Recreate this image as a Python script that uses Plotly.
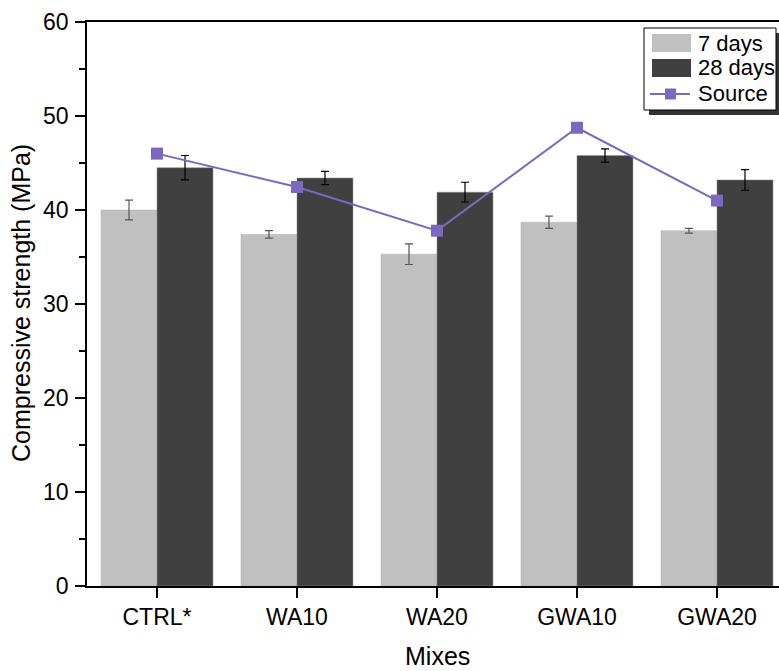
import plotly.graph_objects as go

mixes = ["CTRL*", "WA10", "WA20", "GWA10", "GWA20"]
days7 = [40.0, 37.4, 35.3, 38.7, 37.8]
days7_err = [1.05, 0.4, 1.1, 0.65, 0.25]
days28 = [44.5, 43.4, 41.9, 45.8, 43.2]
days28_err = [1.3, 0.7, 1.05, 0.7, 1.1]
source = [46.0, 42.45, 37.8, 48.75, 41.0]

FONT = "Liberation Sans, Arial, sans-serif"
PURPLE = "#7b68bf"

fig = go.Figure()
fig.add_trace(go.Bar(
    x=mixes, y=days7, name="7 days",
    marker=dict(color="#c0c0c0", line=dict(color="#b0b0b0", width=0.5)),
    error_y=dict(type="data", array=days7_err, color="#555555", thickness=1.2, width=4),
    showlegend=False,
))
fig.add_trace(go.Bar(
    x=mixes, y=days28, name="28 days",
    marker=dict(color="#404040", line=dict(color="#909090", width=0.5)),
    error_y=dict(type="data", array=days28_err, color="#000000", thickness=1.2, width=4),
    showlegend=False,
))
fig.add_trace(go.Scatter(
    x=mixes, y=source, name="Source", mode="lines+markers",
    line=dict(color=PURPLE, width=2),
    marker=dict(symbol="square", size=12, color=PURPLE),
    showlegend=False,
))

# page pixel -> paper coordinates (plot area spans x 87..779, y 22..586)
L, T = 87, 22
W, H = 692, 564
def px(x):
    return (x - L) / W
def py(y):
    return 1 - (y - T) / H

shapes = [
    dict(type="rect", xref="paper", yref="paper", x0=px(649), x1=px(779), y0=py(115), y1=py(33),
         fillcolor="#333333", line=dict(width=0), layer="above"),
    dict(type="rect", xref="paper", yref="paper", x0=px(644), x1=px(776), y0=py(110), y1=py(28),
         fillcolor="white", line=dict(color="black", width=1), layer="above"),
    dict(type="rect", xref="paper", yref="paper", x0=px(652), x1=px(691), y0=py(52), y1=py(34),
         fillcolor="#c0c0c0", line=dict(width=0), layer="above"),
    dict(type="rect", xref="paper", yref="paper", x0=px(652), x1=px(691), y0=py(77), y1=py(59),
         fillcolor="#404040", line=dict(width=0), layer="above"),
    dict(type="line", xref="paper", yref="paper", x0=px(650), x1=px(690), y0=py(94), y1=py(94),
         line=dict(color=PURPLE, width=2), layer="above"),
    dict(type="rect", xref="paper", yref="paper", x0=px(665), x1=px(676), y0=py(99.5), y1=py(88.5),
         fillcolor=PURPLE, line=dict(width=0), layer="above"),
]
annotations = []
for label, yy in [("7 days", 43), ("28 days", 68), ("Source", 94)]:
    annotations.append(dict(text=label, xref="paper", yref="paper", x=px(696), y=py(yy),
                            xanchor="left", yanchor="middle", showarrow=False,
                            font=dict(family=FONT, size=22, color="black")))
annotations.append(dict(text="Compressive strength (MPa)", xref="paper", yref="paper",
                        x=px(21), y=py(303), xanchor="center", yanchor="middle", textangle=-90,
                        showarrow=False, font=dict(family=FONT, size=25, color="black")))
annotations.append(dict(text="Mixes", xref="paper", yref="paper",
                        x=px(437), y=py(656), xanchor="center", yanchor="middle",
                        showarrow=False, font=dict(family=FONT, size=25, color="black")))

fig.update_layout(
    width=779, height=671,
    margin=dict(l=87, r=0, t=22, b=85),
    paper_bgcolor="white", plot_bgcolor="white",
    barmode="group", bargap=0.2, bargroupgap=0,
    font=dict(family=FONT, size=23, color="black"),
    shapes=shapes, annotations=annotations,
    xaxis=dict(
        range=[-0.5, 4.443], showline=True, linecolor="black", linewidth=1.5,
        mirror=True, ticks="outside", ticklen=10, tickwidth=1.5, tickcolor="black",
        showgrid=False, zeroline=False, tickfont=dict(family=FONT, size=23),
    ),
    yaxis=dict(
        range=[0, 60], tickvals=[0, 10, 20, 30, 40, 50, 60],
        showline=True, linecolor="black", linewidth=1.5,
        ticks="outside", ticklen=10, tickwidth=1.5, tickcolor="black",
        minor=dict(ticks="outside", ticklen=6, tickwidth=1.5, tickcolor="black", dtick=5),
        showgrid=False, zeroline=False, tickfont=dict(family=FONT, size=23),
        ticklabelstandoff=2,
    ),
)

fig.write_html(
    "out.html",
    config={"displayModeBar": False},
    post_script="document.body.style.margin='0';document.body.style.overflow='hidden';",
)
